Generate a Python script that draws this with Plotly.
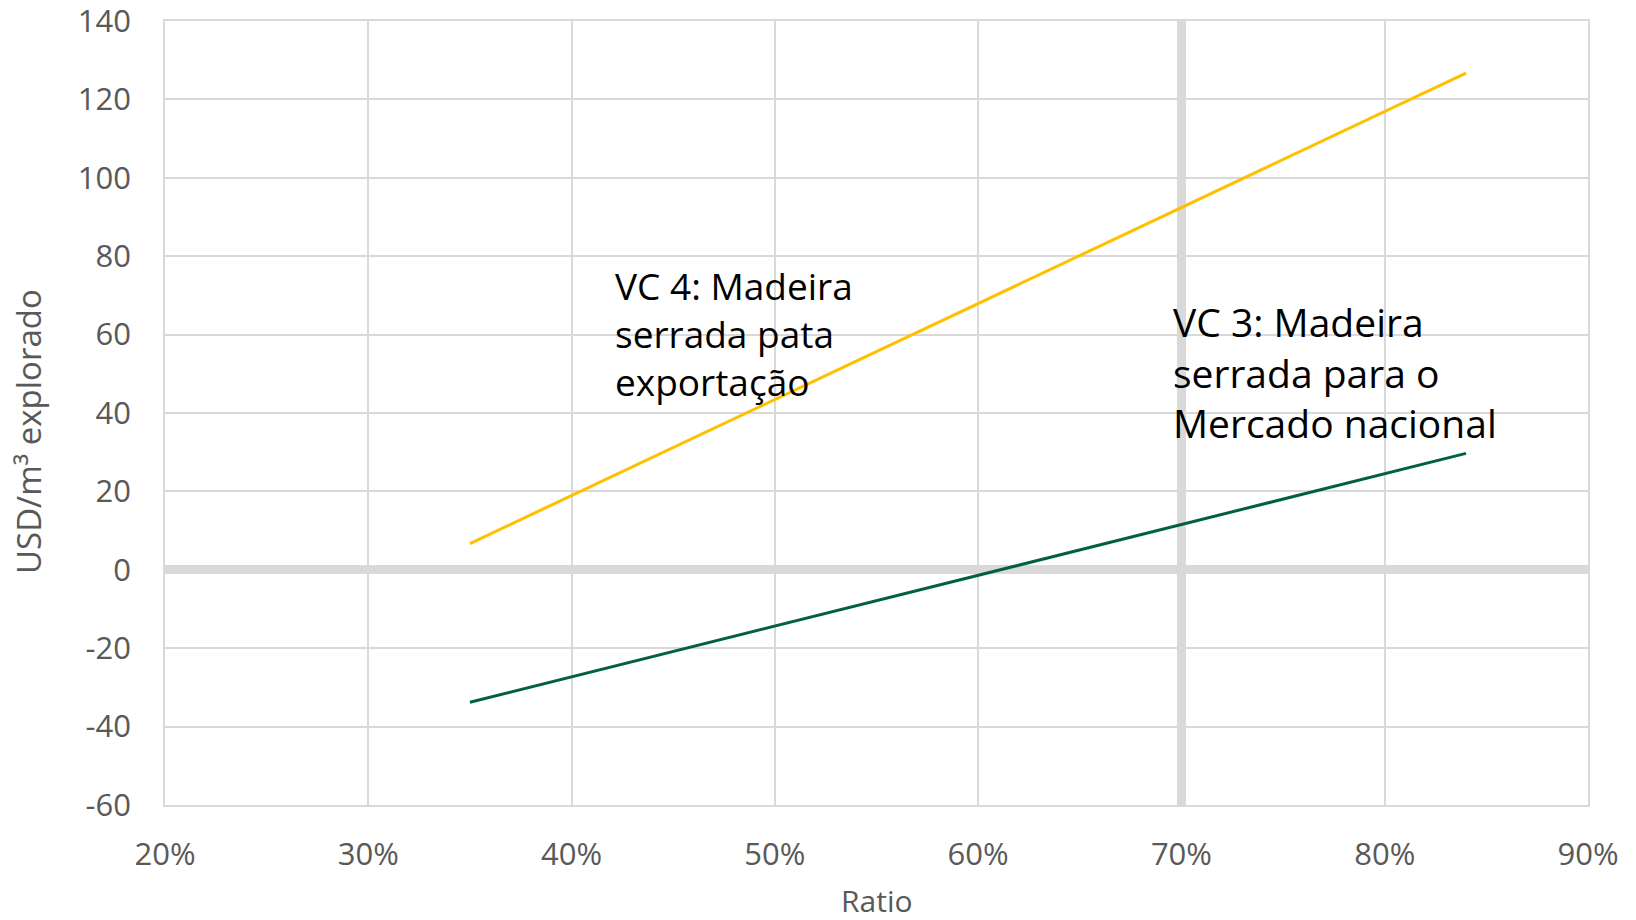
import plotly.graph_objects as go

# data
ratio = [0.35, 0.84]
vc4_export = [6.7, 126.7]
vc3_national = [-33.8, 29.7]
ref_ratio = 0.70

x_ticks = [0.2, 0.3, 0.4, 0.5, 0.6, 0.7, 0.8, 0.9]
x_labels = ["20%", "30%", "40%", "50%", "60%", "70%", "80%", "90%"]
y_ticks = [-60, -40, -20, 0, 20, 40, 60, 80, 100, 120, 140]
y_labels = ["-60", "-40", "-20", "0", "20", "40", "60", "80", "100", "120", "140"]

GRID = "#D9D9D9"
TXT = "#595959"

fig = go.Figure()

# vertical reference line at 70 %
fig.add_trace(go.Scatter(
    x=[ref_ratio, ref_ratio], y=[y_ticks[0], y_ticks[-1]],
    mode="lines", line=dict(color=GRID, width=9),
    hoverinfo="skip", showlegend=False
))

fig.add_trace(go.Scatter(
    x=ratio, y=vc4_export, mode="lines",
    line=dict(color="#FFC000", width=3), name="VC 4", showlegend=False
))
fig.add_trace(go.Scatter(
    x=ratio, y=vc3_national, mode="lines",
    line=dict(color="#00613E", width=3), name="VC 3", showlegend=False
))

fig.add_annotation(
    text="VC 4: Madeira<br>serrada pata<br>exportação",
    x=0.4206, y=79.5, xref="x", yref="y", xanchor="left", yanchor="top",
    align="left", showarrow=False,
    font=dict(family="Open Sans", size=37, color="black")
)
fig.add_annotation(
    text="VC 3: Madeira<br>serrada para o<br>Mercado nacional",
    x=0.6947, y=70.5, xref="x", yref="y", xanchor="left", yanchor="top",
    align="left", showarrow=False,
    font=dict(family="Open Sans", size=39, color="black")
)

# axis titles
fig.add_annotation(
    text="USD/m³ explorado", textangle=-90,
    x=-0.0963, y=0.477, xref="paper", yref="paper",
    xanchor="center", yanchor="middle", showarrow=False,
    font=dict(family="Open Sans", size=33, color=TXT)
)
fig.add_annotation(
    text="Ratio",
    x=0.5004, y=-0.122, xref="paper", yref="paper",
    xanchor="center", yanchor="middle", showarrow=False,
    font=dict(family="Open Sans", size=30, color=TXT)
)

fig.update_layout(
    width=1636, height=920,
    margin=dict(l=165, r=48, t=21, b=115),
    paper_bgcolor="white", plot_bgcolor="white",
    font=dict(family="Open Sans", color=TXT),
)

fig.update_xaxes(
    range=[0.2, 0.9], tickvals=x_ticks, ticktext=x_labels,
    showgrid=True, gridcolor=GRID, gridwidth=1.5,
    showline=True, mirror=True, linecolor=GRID, linewidth=1.5,
    zeroline=False, ticks="",
    tickfont=dict(size=31, color=TXT), ticklabelstandoff=21,
    ticklabeloverflow="allow", automargin=False
)
fig.update_yaxes(
    range=[-60, 140], tickvals=y_ticks, ticktext=y_labels,
    showgrid=True, gridcolor=GRID, gridwidth=1.5,
    showline=True, mirror=True, linecolor=GRID, linewidth=1.5,
    zeroline=True, zerolinecolor=GRID, zerolinewidth=9,
    ticks="",
    tickfont=dict(size=31, color=TXT), ticklabelstandoff=26,
    ticklabeloverflow="allow", automargin=False
)

# drop the default 8px page margin so the figure fills the window
fig.write_html("out.html", config={"displayModeBar": False},
               post_script="document.body.style.margin='0';")
